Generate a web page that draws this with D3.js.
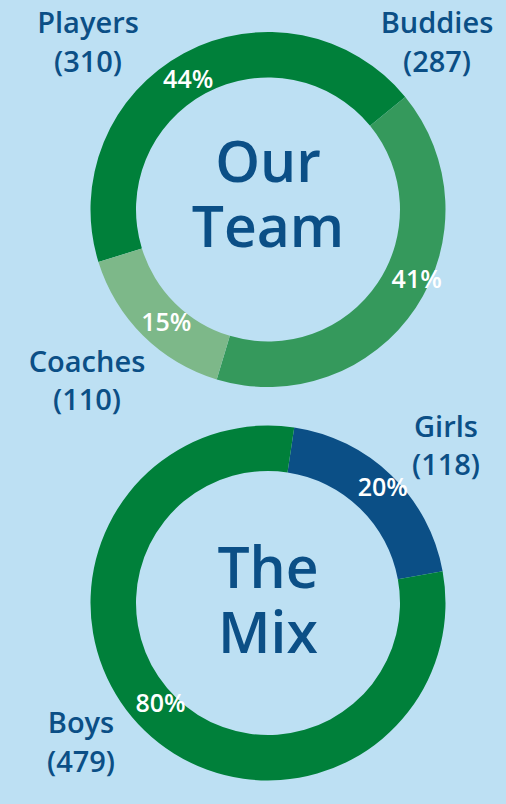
<!DOCTYPE html>
<html>
<head>
<meta charset="utf-8">
<script src="https://cdn.jsdelivr.net/npm/d3@7"></script>
<style>
  html, body { margin: 0; padding: 0; background: #bde0f3; }
  svg { display: block; }
</style>
</head>
<body>
<svg id="chart" width="506" height="804"></svg>
<script>
// ---- data ----
const teamCategories = ["Players", "Buddies", "Coaches"];
const teamValues = [310, 287, 110];
const teamPercents = ["44%", "41%", "15%"];
const teamTitle = ["Our", "Team"];

const mixCategories = ["Girls", "Boys"];
const mixValues = [118, 479];
const mixPercents = ["20%", "80%"];
const mixTitle = ["The", "Mix"];

// ---- style ----
const BG = "#bde0f3";
const TEXT = "#0b4f86";
const FONT = "'Open Sans', Lato, sans-serif";
const colorsTeam = d3.scaleOrdinal().domain(teamCategories).range(["#00803a", "#35995c", "#7db889"]);
const colorsMix = d3.scaleOrdinal().domain(mixCategories).range(["#0b4f86", "#00803a"]);

const svg = d3.select("#chart");
svg.append("rect").attr("width", 506).attr("height", 804).attr("fill", BG);

const R = 177.5, r = 132;
const deg = Math.PI / 180;

function donut(cfg) {
  const g = svg.append("g").attr("transform", `translate(${cfg.cx},${cfg.cy})`);
  const data = cfg.categories.map((c, i) => ({ cat: c, value: cfg.values[i], pct: cfg.percents[i] }));
  const pie = d3.pie().sort(null).value(d => d.value)
    .startAngle(cfg.start * deg).endAngle(cfg.start * deg + 2 * Math.PI);
  const arcs = pie(data);
  const arc = d3.arc().innerRadius(r).outerRadius(R);
  g.selectAll("path.slice").data(arcs).join("path")
    .attr("class", "slice")
    .attr("d", arc)
    .attr("fill", d => cfg.color(d.data.cat));

  // percent labels
  g.selectAll("text.pct").data(arcs).join("text")
    .attr("class", "pct")
    .attr("transform", d => {
      const o = (cfg.labelAt && cfg.labelAt[d.data.cat]) || { f: 0.5, r: 155 };
      const a = d.startAngle + (d.endAngle - d.startAngle) * o.f;
      return `translate(${o.r * Math.sin(a)},${-o.r * Math.cos(a)})`;
    })
    .attr("text-anchor", "middle")
    .attr("dy", "0.36em")
    .attr("fill", "#ffffff")
    .attr("font-family", FONT)
    .attr("font-weight", 600)
    .attr("font-size", 25)
    .text(d => d.data.pct);

  // center title (one text element, two lines)
  const title = g.append("text")
    .attr("class", "title")
    .attr("text-anchor", "middle")
    .attr("fill", TEXT)
    .attr("font-family", FONT)
    .attr("font-weight", 600)
    .attr("font-size", 57);
  title.selectAll("tspan").data(cfg.title).join("tspan")
    .attr("x", 0)
    .attr("y", (d, i) => (i === 0 ? -28 : 37) + cfg.titleDy)
    .text(d => d);

  // category labels
  cfg.categories.forEach((c, i) => {
    const p = cfg.catPos[c];
    const t = svg.append("text")
      .attr("text-anchor", "middle")
      .attr("fill", TEXT)
      .attr("font-family", FONT)
      .attr("font-weight", 600)
      .attr("font-size", 29);
    t.append("tspan").attr("x", p[0]).attr("y", p[1]).text(c);
    t.append("tspan").attr("x", p[0]).attr("y", p[1] + 38.5).text(`(${cfg.values[i]})`);
  });
}

donut({
  cx: 268, cy: 209.5, start: -107.2, titleDy: 0,
  categories: teamCategories, values: teamValues, percents: teamPercents,
  title: teamTitle, color: colorsTeam,
  labelAt: { Buddies: { f: 0.44, r: 164 }, Players: { f: 0.48, r: 153 }, Coaches: { f: 0.45, r: 152 } },
  catPos: { Players: [88, 33], Buddies: [437, 33], Coaches: [87, 371.5] }
});

donut({
  cx: 268, cy: 603, start: 8.5, titleDy: 13,
  categories: mixCategories, values: mixValues, percents: mixPercents,
  title: mixTitle, color: colorsMix,
  labelAt: { Girls: { f: 0.51, r: 163 }, Boys: { f: 0.51, r: 147 } },
  catPos: { Girls: [446, 436.5], Boys: [81, 733] }
});
</script>
</body>
</html>
